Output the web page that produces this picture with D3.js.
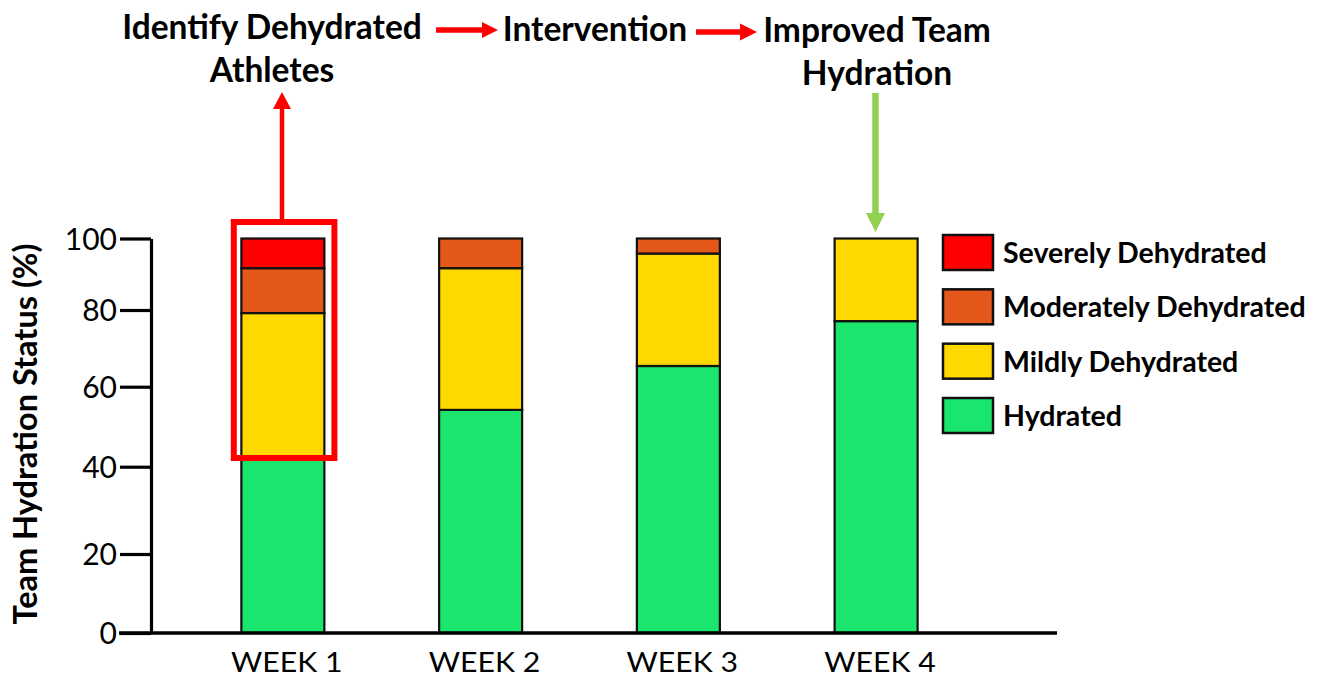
<!DOCTYPE html>
<html>
<head>
<meta charset="utf-8">
<script src="https://cdn.jsdelivr.net/npm/d3@7"></script>
<style>
  body { margin: 0; background: #ffffff; }
  text { font-family: Lato, "Open Sans", sans-serif; fill: #000; }
</style>
</head>
<body>
<svg id="chart" width="1323" height="677"></svg>
<script>
// Weekly team hydration breakdown (% of athletes in each status)
const weeks = ["WEEK 1", "WEEK 2", "WEEK 3", "WEEK 4"];
const statusKeys = ["Hydrated", "Mildly Dehydrated", "Moderately Dehydrated", "Severely Dehydrated"];
const hydrated   = [41.7, 54.2, 65.4, 77.1];
const mildly     = [37.5, 37.5, 30.4, 22.9];
const moderately = [12.5, 8.3, 4.2, 0];
const severely   = [8.3, 0, 0, 0];
const yTicks = [0, 20, 40, 60, 80, 100];
const statusColors = ["#1ae66e", "#ffd800", "#e4581a", "#ff0000"];

const svg = d3.select("#chart");

// rows for the stack layout
const rows = weeks.map((w, i) => ({
  week: w,
  "Hydrated": hydrated[i],
  "Mildly Dehydrated": mildly[i],
  "Moderately Dehydrated": moderately[i],
  "Severely Dehydrated": severely[i]
}));
const series = d3.stack().keys(statusKeys)(rows);

const x = d3.scaleBand().domain(weeks).range([184, 975]).paddingInner(0.58).paddingOuter(0.29);
// axis calibration points for each labelled tick
const y = d3.scaleLinear().domain(yTicks).range([633, 554, 466.7, 386.7, 310, 238.5]);
const color = d3.scaleOrdinal().domain(statusKeys).range(statusColors);

// stacked bars
const bw = 83;
svg.append("g").selectAll("g").data(series).join("g")
  .attr("fill", d => color(d.key))
  .selectAll("rect").data(d => d.filter(s => s[1] - s[0] > 0)).join("rect")
    .attr("x", d => x(d.data.week) + x.bandwidth() / 2 - bw / 2)
    .attr("width", bw)
    .attr("y", d => y(d[1]))
    .attr("height", d => y(d[0]) - y(d[1]))
    .attr("stroke", "#111")
    .attr("stroke-width", 2.2);

// y axis
const yAxis = svg.append("g").attr("transform", "translate(151,0)")
  .call(d3.axisLeft(y).tickValues(yTicks).tickSize(31).tickSizeOuter(0).tickPadding(3).tickFormat(d3.format("d")));
yAxis.select(".domain").attr("stroke", "#000").attr("stroke-width", 3.2);
yAxis.selectAll(".tick line").attr("stroke", "#000").attr("stroke-width", 3.2);
yAxis.selectAll(".tick text")
  .attr("font-family", "Lato, 'Open Sans', sans-serif")
  .attr("font-size", 30).attr("dy", "0.36em").attr("fill", "#000");

// x axis baseline
svg.append("line")
  .attr("x1", 119).attr("x2", 1057).attr("y1", y(0)).attr("y2", y(0))
  .attr("stroke", "#000").attr("stroke-width", 3.4);

const xAxis = svg.append("g").attr("transform", `translate(0,${y(0)})`)
  .call(d3.axisBottom(x).tickSize(0));
xAxis.select(".domain").remove();
xAxis.selectAll(".tick text")
  .attr("font-family", "Lato, 'Open Sans', sans-serif")
  .attr("font-size", 27).attr("y", 39).attr("dy", 0).attr("fill", "#000")
  .attr("transform", "scale(1.12,1)")
  .attr("x", 3.5);

// y axis title
svg.append("text")
  .attr("transform", "translate(37,434) rotate(-90)")
  .attr("text-anchor", "middle")
  .attr("font-weight", 700).attr("font-size", 32.5)
  .text("Team Hydration Status (%)");

// legend (top to bottom: most to least dehydrated)
const legendKeys = statusKeys.slice().reverse();
const ly = d3.scalePoint().domain(legendKeys).range([235, 398]);
const legend = svg.append("g").selectAll("g").data(legendKeys).join("g")
  .attr("transform", d => `translate(943,${ly(d)})`);
legend.append("rect")
  .attr("width", 50).attr("height", 35)
  .attr("fill", d => color(d)).attr("stroke", "#111").attr("stroke-width", 2.5);
legend.append("text")
  .attr("x", 60).attr("y", 28)
  .attr("font-weight", 700).attr("font-size", 28.5)
  .text(d => d);

// workflow annotation across the top
const titleText = (t, cx, base) => svg.append("text")
  .attr("x", cx).attr("y", base).attr("text-anchor", "middle")
  .attr("font-weight", 700).attr("font-size", 33.5).text(t);
titleText("Identify Dehydrated", 272, 39);
titleText("Athletes", 272, 82);
titleText("Intervention", 595, 41);
titleText("Improved Team", 877, 42);
titleText("Hydration", 877, 85);

function arrow(x1, y1, x2, y2, col, lw, headLen, headW) {
  const ang = Math.atan2(y2 - y1, x2 - x1);
  const bx = x2 - headLen * Math.cos(ang), by = y2 - headLen * Math.sin(ang);
  svg.append("line").attr("x1", x1).attr("y1", y1).attr("x2", bx).attr("y2", by)
    .attr("stroke", col).attr("stroke-width", lw);
  const px = -Math.sin(ang) * headW / 2, py = Math.cos(ang) * headW / 2;
  svg.append("path")
    .attr("d", `M${x2},${y2}L${bx + px},${by + py}L${bx - px},${by - py}Z`)
    .attr("fill", col);
}
arrow(436, 30, 498, 30, "#ff0000", 5.5, 16, 16);
arrow(696, 32, 757, 32, "#ff0000", 5.5, 17, 17);
arrow(282, 219, 282, 92, "#ff0000", 4.5, 17, 18);
arrow(875.5, 93, 875.5, 232, "#92d050", 6.5, 19, 19);

// highlight box around week 1 dehydrated share
svg.append("rect")
  .attr("x", 233.8).attr("y", 222).attr("width", 100.6).attr("height", 236)
  .attr("fill", "none").attr("stroke", "#ff0000").attr("stroke-width", 6);
</script>
</body>
</html>
